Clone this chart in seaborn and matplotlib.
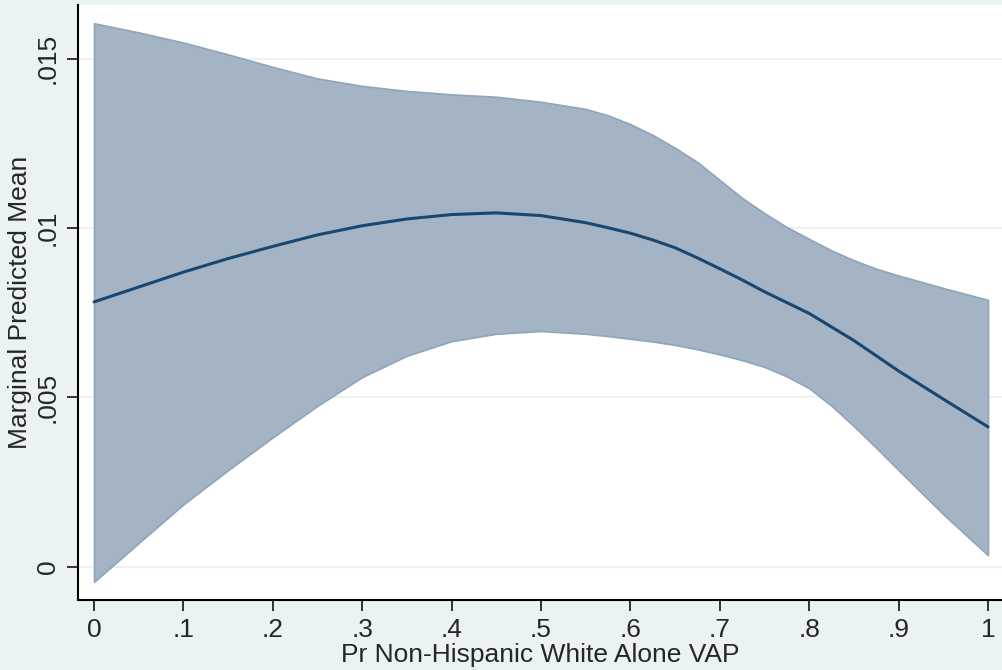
import matplotlib
matplotlib.use("Agg")
import matplotlib.pyplot as plt
import pandas as pd
import seaborn as sns

# Values (marginal predictions with 95% CI)
x_vals = [0, .05, .1, .15, .2, .25, .3, .35, .4, .45, .5, .55, .575, .6, .625, .65,
          .675, .7, .725, .75, .775, .8, .825, .85, .875, .9, .95, 1]
margin = [.00782, .00826, .00870, .00910, .00946, .00980, .01007, .01027, .01040, .01045,
          .01037, .01016, .01001, .00985, .00965, .00942, .00912, .00880, .00847, .00812,
          .00780, .00748, .00708, .00668, .00623, .00578, .00495, .00413]
ci_upper = [.01605, .01578, .01548, .01513, .01476, .01442, .01420, .01405, .01395, .01388,
            .01373, .01352, .01333, .01307, .01275, .01237, .01195, .01142, .01089, .01044,
            .01003, .00968, .00934, .00905, .00880, .00860, .00823, .00788]
ci_lower = [-.00045, .00070, .00184, .00285, .00382, .00475, .00560, .00623, .00666, .00688,
            .00696, .00688, .00681, .00673, .00665, .00655, .00642, .00627, .00610, .00590,
            .00562, .00527, .00475, .00415, .00351, .00285, .00155, .00034]
x_ticks = [0, .1, .2, .3, .4, .5, .6, .7, .8, .9, 1]
x_labels = ['0', '.1', '.2', '.3', '.4', '.5', '.6', '.7', '.8', '.9', '1']
y_ticks = [0, .005, .01, .015]
y_labels = ['0', '.005', '.01', '.015']

df = pd.DataFrame({'x': x_vals, 'margin': margin, 'lo': ci_lower, 'hi': ci_upper})

bg = '#EAF2F3'
sns.set_theme(style='white')
plt.rcParams['font.family'] = ['Liberation Sans', 'DejaVu Sans']

fig = plt.figure(figsize=(10.02, 6.7), dpi=100, facecolor=bg)
ax = fig.add_axes([78 / 1002, 70 / 670, 1 - 78 / 1002, 595 / 670])
ax.set_facecolor('white')

# confidence band, then the predicted mean on top
ax.fill_between(df['x'], df['lo'], df['hi'], facecolor='#A4B4C4',
                edgecolor='#8FA5BB', linewidth=1.2, zorder=2)
sns.lineplot(data=df, x='x', y='margin', color='#1A476F', linewidth=2.2, ax=ax, zorder=3)

ax.set_xlim((78 - 94) / 894, (1002 - 94) / 894)
ax.set_ylim((566.7 - 600) / 33860, (566.7 - 5) / 33860)

ax.set_xticks(x_ticks)
ax.set_xticklabels(x_labels)
ax.set_yticks(y_ticks)
ax.set_yticklabels(y_labels, rotation=90, va='center')
ax.yaxis.grid(True, color=bg, linewidth=1.5, zorder=0)
ax.xaxis.grid(False)
ax.set_axisbelow(True)

ax.tick_params(axis='both', which='major', length=8, width=1.1, color='black',
               labelsize=19, direction='out', left=True, bottom=True, pad=5)
for side in ['top', 'right']:
    ax.spines[side].set_visible(False)
for side in ['left', 'bottom']:
    ax.spines[side].set_color('black')
    ax.spines[side].set_linewidth(1.5)

ax.set_xlabel('Pr Non-Hispanic White Alone VAP', fontsize=19, labelpad=1)
ax.set_ylabel('Marginal Predicted Mean', fontsize=19, labelpad=3)

fig.savefig('out.png', dpi=100, facecolor=bg)
